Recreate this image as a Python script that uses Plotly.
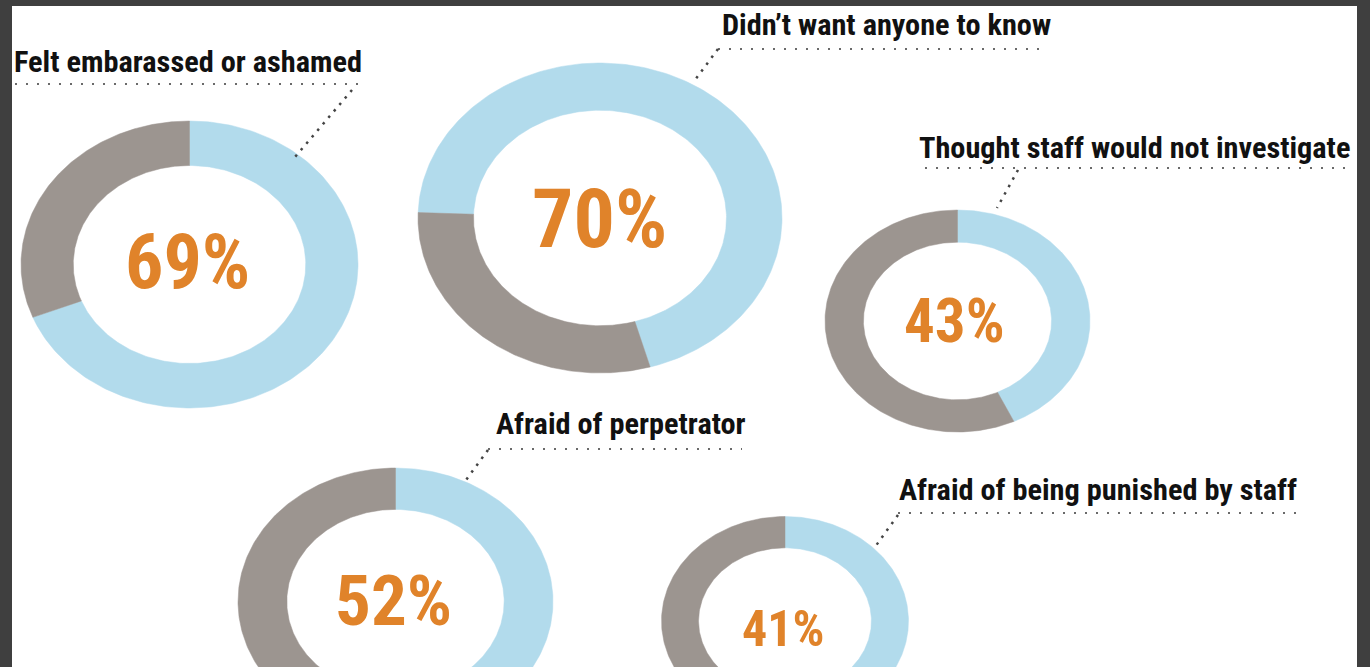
import numpy as np
import plotly.graph_objects as go

# ---- data ----
labels = ["Felt embarassed or ashamed", "Didn\u2019t want anyone to know",
          "Thought staff would not investigate", "Afraid of perpetrator",
          "Afraid of being punished by staff"]
values = [69, 70, 43, 52, 41]

# ---- layout (pixel space) ----
centers_x = [189.5, 600, 957.5, 395.5, 785]
centers_y = [264.5, 218, 321, 601.5, 621]
radii_x = [168.5, 182, 132.5, 157.5, 123.5]
radii_y = [143.5, 155, 111, 133.5, 104.5]
holes = [0.69, 0.695, 0.71, 0.69, 0.70]
start_deg = [0, 272, 0, 0, 0]
pct_sizes = [76, 82, 61, 71, 50]
pct_pos_x = [187.5, 599, 954, 393.5, 783]
pct_pos_y = [261.5, 218.5, 321, 600, 628.5]

label_x = [12, 720, 917, 494, 897]
label_y = [61, 24.5, 147, 423.5, 489]
label_sizes = [30.3, 30.3, 30.3, 30.3, 30.3]
under_x0 = [15, 718, 925, 488, 898]
under_x1 = [358, 1048, 1350, 742, 1305]
under_y = [84, 49, 168, 449, 513]
lead_x0 = [352, 718, 1018, 488, 898]
lead_y0 = [90, 49, 170, 450, 515]
lead_x1 = [295, 695, 997, 466, 875]
lead_y1 = [157, 80, 208, 480, 547]

BLUE = "#b2dbec"
GRAY = "#9c9590"
ORANGE = "#e0832a"
DARK = "#3f3f3f"
FONT = "Noto Sans ExtraCondensed, Noto Sans Condensed, Roboto Condensed, Roboto, sans-serif"

fig = go.Figure()


def ring(cx, cy, rx, ry, hole, a0, a1):
    t = np.radians(np.linspace(a0, a1, 200))
    ox = cx + rx * np.sin(t)
    oy = cy - ry * np.cos(t)
    ix = cx + rx * hole * np.sin(t[::-1])
    iy = cy - ry * hole * np.cos(t[::-1])
    return np.concatenate([ox, ix, ox[:1]]), np.concatenate([oy, iy, oy[:1]])


for i, v in enumerate(values):
    a0 = start_deg[i]
    a_mid = a0 + 360 * v / 100
    a_end = a0 + 360
    for (s, e, col) in [(a0, a_mid, BLUE), (a_mid, a_end, GRAY)]:
        xs, ys = ring(centers_x[i], centers_y[i], radii_x[i], radii_y[i], holes[i], s, e)
        fig.add_trace(go.Scatter(x=xs, y=ys, mode="lines", fill="toself",
                                 fillcolor=col, line=dict(width=0.5, color=col),
                                 hoverinfo="skip", showlegend=False))

# dotted underlines and leaders
for i in range(len(labels)):
    fig.add_trace(go.Scatter(x=[under_x0[i], under_x1[i]], y=[under_y[i], under_y[i]],
                             mode="lines", line=dict(color="#6a6a6a", width=2, dash="2px,9px"),
                             hoverinfo="skip", showlegend=False))
    fig.add_trace(go.Scatter(x=[lead_x0[i], lead_x1[i]], y=[lead_y0[i], lead_y1[i]],
                             mode="lines", line=dict(color="#444444", width=2.5, dash="2.5px,6px"),
                             hoverinfo="skip", showlegend=False))

annotations = []
for i, lab in enumerate(labels):
    annotations.append(dict(x=label_x[i], y=label_y[i], xref="x", yref="y", text=lab,
                            showarrow=False, xanchor="left", yanchor="middle",
                            font=dict(family=FONT, size=label_sizes[i], color="#111111", weight=700)))
    annotations.append(dict(x=pct_pos_x[i], y=pct_pos_y[i], xref="x", yref="y",
                            text=f"{values[i]}%", showarrow=False,
                            xanchor="center", yanchor="middle",
                            font=dict(family=FONT, size=pct_sizes[i], color=ORANGE, weight=700)))

fig.update_layout(
    width=1370, height=667,
    margin=dict(l=12, r=13, t=6, b=0, pad=0),
    paper_bgcolor=DARK, plot_bgcolor="white",
    annotations=annotations,
    xaxis=dict(range=[12, 1357], visible=False, fixedrange=True),
    yaxis=dict(range=[667, 6], visible=False, fixedrange=True),
    showlegend=False,
)

fig.write_html("out.html", config={"displayModeBar": False})
